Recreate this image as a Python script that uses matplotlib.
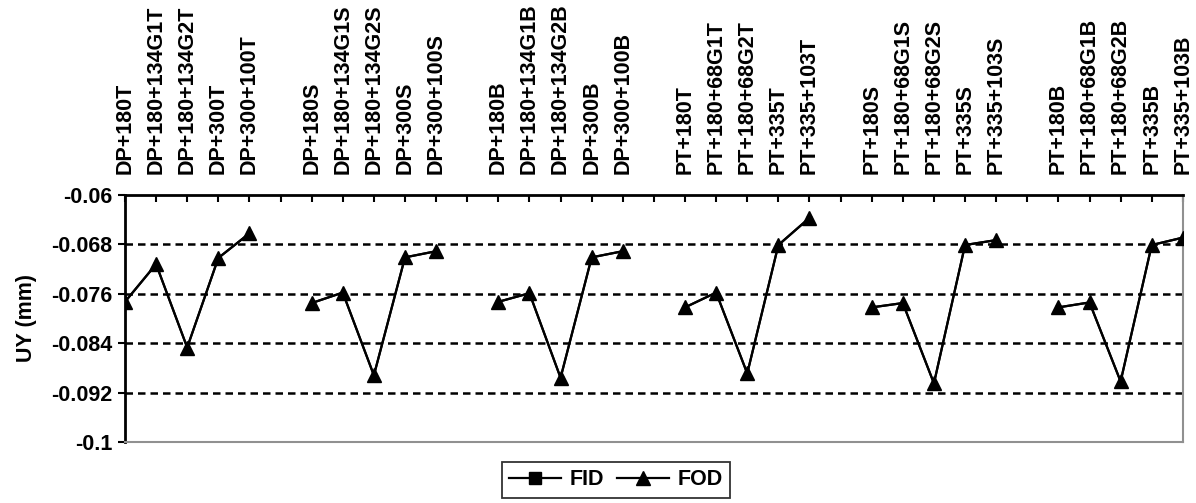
import numpy as np
import matplotlib
matplotlib.use("Agg")
import matplotlib.pyplot as plt
from matplotlib.lines import Line2D

plt.rcParams['font.family'] = ['Liberation Sans', 'DejaVu Sans']
plt.rcParams['font.weight'] = 'bold'

# =========================
# Data
# =========================
groups = [
    ["DP+180T", "DP+180+134G1T", "DP+180+134G2T", "DP+300T", "DP+300+100T"],
    ["DP+180S", "DP+180+134G1S", "DP+180+134G2S", "DP+300S", "DP+300+100S"],
    ["DP+180B", "DP+180+134G1B", "DP+180+134G2B", "DP+300B", "DP+300+100B"],
    ["PT+180T", "PT+180+68G1T", "PT+180+68G2T", "PT+335T", "PT+335+103T"],
    ["PT+180S", "PT+180+68G1S", "PT+180+68G2S", "PT+335S", "PT+335+103S"],
    ["PT+180B", "PT+180+68G1B", "PT+180+68G2B", "PT+335B", "PT+335+103B"],
]

fod_values = [
    [-0.0773, -0.0712, -0.0847, -0.0702, -0.0662],
    [-0.0775, -0.0758, -0.0892, -0.0701, -0.0691],
    [-0.0773, -0.0759, -0.0896, -0.0701, -0.0691],
    [-0.0782, -0.0758, -0.0889, -0.0681, -0.0637],
    [-0.0782, -0.0775, -0.0905, -0.0681, -0.0673],
    [-0.0782, -0.0774, -0.0902, -0.0681, -0.0669],
]

# FID coincides with FOD (hidden under the triangles)
fid_values = fod_values

y_ticks = [-0.1, -0.092, -0.084, -0.076, -0.068, -0.06]
y_tick_labels = ["-0.1", "-0.092", "-0.084", "-0.076", "-0.068", "-0.06"]

# =========================
# Figure
# =========================
fig = plt.figure(figsize=(11.96, 5.03), dpi=100)
ax = fig.add_axes([0.1045, 0.1213, 0.989 - 0.1045, 0.6123 - 0.1213])

fs = 15.5
group_size = len(groups[0])
step = group_size + 1

tick_pos = []
tick_lab = []
for g, (labels, fid, fod) in enumerate(zip(groups, fid_values, fod_values)):
    x = np.arange(group_size) + g * step
    ax.plot(x, fid, color="black", lw=1.6, marker="s", ms=3, zorder=3)
    ax.plot(x, fod, color="black", lw=1.6, marker="^", ms=10.5, zorder=4)
    tick_pos.extend(x)
    tick_lab.extend(labels)
    if g < len(groups) - 1:
        tick_pos.append(g * step + group_size)
        tick_lab.append("")

ax.set_xlim(0, tick_pos[-1])
ax.set_ylim(-0.1, -0.06)

# grid lines
for yv in y_ticks[:-1]:
    ax.axhline(yv, color="black", lw=1.8, ls=(0, (3, 2)), zorder=1)

ax.set_yticks(y_ticks)
ax.set_yticklabels(y_tick_labels, fontsize=fs, fontweight="bold")
ax.tick_params(axis="y", direction="out", length=5, width=1.5, pad=4)

ax.set_xticks(tick_pos)
ax.set_xticklabels(tick_lab, rotation=90, fontsize=15.5, fontweight="bold")
ax.xaxis.tick_top()
ax.tick_params(axis="x", direction="in", length=5, width=1.5, pad=15,
               top=True, bottom=False)

ax.set_ylabel("UY (mm)", fontsize=fs, fontweight="bold", labelpad=10)

ax.spines["left"].set_linewidth(2)
ax.spines["top"].set_linewidth(2)
ax.spines["right"].set_color("#909090")
ax.spines["right"].set_linewidth(1.5)
ax.spines["bottom"].set_color("#909090")
ax.spines["bottom"].set_linewidth(1.5)

handles = [
    Line2D([], [], color="black", lw=1.6, marker="s", ms=8),
    Line2D([], [], color="black", lw=1.6, marker="^", ms=10),
]
leg = fig.legend(handles, ["FID", "FOD"], loc="center",
                 bbox_to_anchor=(0.515, 0.046), ncol=2, fontsize=fs,
                 frameon=True, fancybox=False, edgecolor="black",
                 handlelength=2.4, columnspacing=0.6, handletextpad=0.4,
                 borderpad=0.35)
leg.get_frame().set_linewidth(1.3)
for t in leg.get_texts():
    t.set_fontweight("bold")

plt.savefig("out.png", dpi=100)
